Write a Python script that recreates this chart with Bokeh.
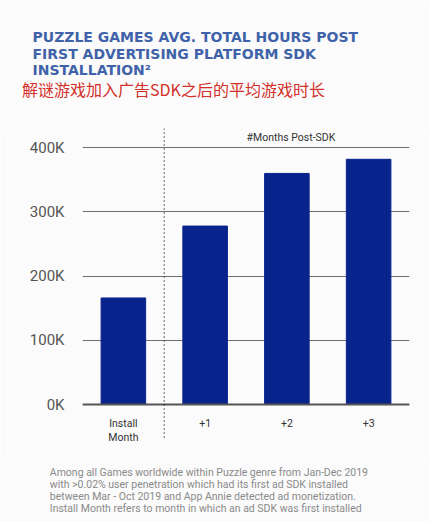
from bokeh.plotting import figure
from bokeh.models import (Range1d, FactorRange, FixedTicker, PrintfTickFormatter, Span)
from bokeh.core.properties import value
from bokeh.embed import file_html
from bokeh.resources import INLINE

# ---- data ----
categories = ["Install\nMonth", "+1", "+2", "+3"]
hours_k = [166, 278, 360, 382]          # avg total hours, thousands
y_ticks = [0, 100, 200, 300, 400]

title_lines = ["PUZZLE GAMES AVG. TOTAL HOURS POST",
               "FIRST ADVERTISING PLATFORM SDK",
               "INSTALLATION\u00b2"]
subtitle_cn = "解谜游戏加入广告SDK之后的平均游戏时长"
group_label = "#Months Post-SDK"
footnote = ["Among all Games worldwide within Puzzle genre from Jan-Dec 2019",
            "with >0.02% user penetration which had its first ad SDK installed",
            "between Mar - Oct 2019 and App Annie detected ad monetization.",
            "Install Month refers to month in which an ad SDK was first installed"]

BG = "#fbfbfb"
BAR = "#08238c"
W = 429


def blank(h):
    f = figure(width=W, height=h, output_backend="svg", toolbar_location=None,
               x_range=Range1d(0, W), y_range=Range1d(h, 0),
               min_border=0, background_fill_color=BG, border_fill_color=BG,
               outline_line_color=None)
    f.axis.visible = False
    f.grid.visible = False
    return f


# ---- header ----
head = blank(128)
head.text(x=[32] * 3, y=[36.7 + 16.3 * i for i in range(3)], text=title_lines,
          text_font=value("DejaVu Sans"), text_font_style="bold",
          text_font_size="14px", text_color="#3f62a9", text_baseline="middle")
head.text(x=[21.5], y=[88], text=[subtitle_cn], text_font=value("Noto Sans CJK SC"),
          text_font_size="16px", text_color="#d4302a", text_baseline="middle")

# ---- chart ----
p = figure(width=W, height=331, output_backend="svg", toolbar_location=None,
           x_range=FactorRange(*categories, range_padding=0),
           y_range=Range1d(-54.5, 430),
           min_border_left=82, min_border_right=20,
           min_border_top=0, min_border_bottom=20,
           background_fill_color=BG, border_fill_color=BG,
           outline_line_color=None)

p.vbar(x=categories, top=hours_k, width=0.545, color=BAR)

p.yaxis.ticker = FixedTicker(ticks=y_ticks)
p.yaxis.formatter = PrintfTickFormatter(format="%dK")
p.yaxis.axis_line_color = None
p.yaxis.major_tick_line_color = None
p.yaxis.minor_tick_line_color = None
p.yaxis.major_label_text_font = "Roboto"
p.yaxis.major_label_text_font_size = "15px"
p.yaxis.major_label_text_color = "#555555"
p.yaxis.major_label_standoff = 12

p.xaxis.axis_line_color = None
p.xaxis.major_tick_line_color = None
p.xaxis.major_label_text_font = "Roboto"
p.xaxis.major_label_text_font_size = "10.5px"
p.xaxis.major_label_text_color = "#333333"
p.xaxis.major_label_text_line_height = 1.1
p.xaxis.major_label_standoff = -29

p.xgrid.grid_line_color = None
p.ygrid.ticker = FixedTicker(ticks=y_ticks)
p.ygrid.grid_line_color = "#707070"
p.ygrid.grid_line_width = 1

p.add_layout(Span(location=0, dimension="width", line_color="#555555", line_width=2))
p.add_layout(Span(location=1.0, dimension="height", line_color="#333333",
                  line_width=1.5, line_dash="1 3"))

p.text(x=[2.55], y=[416], text=[group_label], text_align="center",
       text_baseline="middle", text_font=value("Roboto"),
       text_font_size="10.5px", text_color="#333333")

# ---- footer ----
foot = blank(63)
foot.text(x=[49.3] * 4, y=[12.7 + 12 * i for i in range(4)], text=footnote,
          text_font=value("Roboto"), text_font_size="10.5px",
          text_color="#8a8a8a", text_baseline="middle")

open("out.html", "w").write(file_html([head, p, foot], INLINE))
